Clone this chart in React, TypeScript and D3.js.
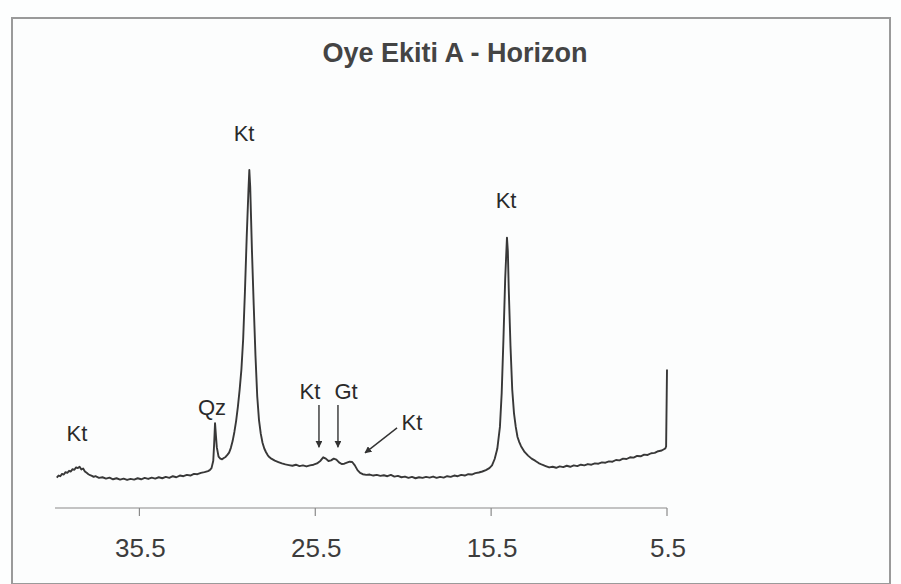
import React from "react";
import * as d3 from "d3";

const chartTitle = "Oye Ekiti A - Horizon";

// Diffractogram trace: [2θ position, counts]
const pattern: [number, number][] = [
  [40.2, 90], [40.1, 96], [40.0, 94], [39.9, 101], [39.8, 99], [39.7, 106], [39.6, 104],
  [39.5, 110], [39.4, 108], [39.3, 115], [39.2, 113], [39.1, 120], [39.0, 118], [38.9, 122],
  [38.8, 114], [38.7, 117], [38.6, 108], [38.5, 104], [38.4, 100], [38.3, 97], [38.2, 95],
  [38.1, 92], [38.0, 94], [37.8, 89], [37.6, 91], [37.4, 87], [37.2, 90], [37.0, 85],
  [36.8, 88], [36.6, 84], [36.4, 87], [36.2, 83], [36.0, 86], [35.8, 84], [35.6, 88],
  [35.4, 85], [35.2, 89], [35.0, 86], [34.8, 90], [34.6, 87], [34.4, 91], [34.2, 88],
  [34.0, 92], [33.8, 89], [33.6, 94], [33.4, 91], [33.2, 96], [33.0, 94], [32.8, 98],
  [32.6, 96], [32.4, 101], [32.2, 100], [32.0, 104], [31.8, 106], [31.6, 109], [31.5, 112],
  [31.4, 118], [31.3, 140], [31.25, 190], [31.2, 251], [31.15, 215], [31.1, 180], [31.0, 152],
  [30.9, 146], [30.8, 144], [30.7, 148], [30.6, 151], [30.5, 157], [30.4, 164], [30.3, 178],
  [30.2, 198], [30.1, 225], [30.0, 258], [29.9, 300], [29.8, 350], [29.7, 410], [29.6, 500],
  [29.5, 640], [29.4, 800], [29.3, 940], [29.25, 1000], [29.2, 950], [29.1, 760], [29.0, 600],
  [28.9, 450], [28.8, 330], [28.7, 260], [28.6, 220], [28.5, 193], [28.4, 176], [28.3, 165],
  [28.2, 156], [28.1, 150], [28.0, 146], [27.8, 140], [27.6, 136], [27.4, 132], [27.2, 129],
  [27.0, 127], [26.8, 125], [26.6, 128], [26.4, 124], [26.2, 126], [26.0, 123], [25.8, 126],
  [25.6, 128], [25.4, 132], [25.2, 140], [25.05, 150], [24.9, 146], [24.75, 139], [24.6, 141],
  [24.45, 146], [24.3, 143], [24.15, 135], [24.0, 130], [23.85, 131], [23.7, 134], [23.55, 137],
  [23.4, 136], [23.25, 126], [23.1, 112], [22.95, 104], [22.8, 100], [22.6, 98], [22.4, 99],
  [22.2, 96], [22.0, 98], [21.8, 95], [21.6, 97], [21.4, 94], [21.2, 98], [21.0, 93],
  [20.8, 95], [20.6, 91], [20.4, 93], [20.2, 89], [20.0, 92], [19.8, 88], [19.6, 91],
  [19.4, 89], [19.2, 92], [19.0, 90], [18.8, 93], [18.6, 89], [18.4, 92], [18.2, 90],
  [18.0, 94], [17.8, 92], [17.6, 96], [17.4, 94], [17.2, 98], [17.0, 96], [16.8, 100],
  [16.6, 99], [16.4, 103], [16.2, 105], [16.0, 108], [15.8, 112], [15.6, 118], [15.45, 126],
  [15.3, 145], [15.15, 175], [15.0, 240], [14.9, 340], [14.8, 500], [14.7, 680], [14.6, 800],
  [14.55, 760], [14.5, 650], [14.4, 480], [14.3, 350], [14.2, 280], [14.1, 240], [14.0, 210],
  [13.9, 195], [13.8, 183], [13.6, 166], [13.4, 155], [13.2, 146], [13.0, 140], [12.8, 133],
  [12.6, 128], [12.4, 124], [12.2, 120], [12.0, 122], [11.8, 119], [11.6, 123], [11.4, 121],
  [11.2, 125], [11.0, 122], [10.8, 126], [10.6, 124], [10.4, 128], [10.2, 126], [10.0, 130],
  [9.8, 128], [9.6, 132], [9.4, 131], [9.2, 135], [9.0, 134], [8.8, 138], [8.6, 137],
  [8.4, 142], [8.2, 141], [8.0, 146], [7.8, 145], [7.6, 150], [7.4, 149], [7.2, 154],
  [7.0, 153], [6.8, 158], [6.6, 157], [6.4, 162], [6.2, 163], [6.0, 168], [5.8, 170],
  [5.6, 176], [5.55, 182], [5.5, 410],
];

const tickValues = [35.5, 25.5, 15.5, 5.5];

// Peak labels: [text, 2θ, counts]
const peakLabels: [string, number, number][] = [
  ["Kt", 39.05, 222],
  ["Qz", 31.37, 299],
  ["Kt", 29.55, 1109],
  ["Kt", 25.8, 346],
  ["Gt", 23.75, 346],
  ["Kt", 20.0, 254],
  ["Kt", 14.65, 911],
];

// Arrows: [from 2θ, from counts, to 2θ, to counts]
const arrows: [number, number, number, number][] = [
  [25.29, 305, 25.29, 180],
  [24.21, 305, 24.21, 180],
  [20.85, 237, 22.67, 163],
];

export default function App() {
  const W = 901;
  const H = 584;
  const x = d3.scaleLinear().domain([40.3, 5.5]).range([55, 667]);
  const y = d3.scaleLinear().domain([0, 1000]).range([508, 170]);
  const axisY = 508;

  const line = d3
    .line<[number, number]>()
    .x((d) => x(d[0]))
    .y((d) => y(d[1]));

  const font = "'Liberation Sans', Arial, sans-serif";

  return (
    <svg
      width={W}
      height={H}
      style={{ position: "absolute", left: 0, top: 0, display: "block" }}
    >
      <defs>
        <marker
          id="ah"
          viewBox="0 0 10 10"
          refX="9"
          refY="5"
          markerWidth="7"
          markerHeight="7"
          orient="auto-start-reverse"
          markerUnits="userSpaceOnUse"
        >
          <path d="M0,0 L10,5 L0,10 z" fill="#333" />
        </marker>
      </defs>
      <rect x={0} y={0} width={W} height={H} fill="#fdfefe" />
      <rect
        x={12}
        y={18}
        width={878}
        height={566}
        fill="#fcfdfd"
        stroke="#9a9a9a"
        strokeWidth={2}
      />
      <text
        x={455}
        y={62}
        textAnchor="middle"
        fontFamily={font}
        fontWeight="bold"
        fontSize={27}
        fill="#444"
      >
        {chartTitle}
      </text>

      {/* x axis */}
      <line
        x1={x(40.3)}
        x2={x(5.5)}
        y1={axisY}
        y2={axisY}
        stroke="#8a8a8a"
        strokeWidth={1.2}
      />
      {tickValues.map((t) => (
        <g key={t}>
          <line
            x1={x(t)}
            x2={x(t)}
            y1={axisY}
            y2={axisY + 8}
            stroke="#8a8a8a"
            strokeWidth={1.2}
          />
          <text
            x={x(t) + 1}
            y={557}
            textAnchor="middle"
            fontFamily={font}
            fontSize={26}
            fill="#3c3c3c"
          >
            {t.toFixed(1)}
          </text>
        </g>
      ))}

      <path
        d={line(pattern) || ""}
        fill="none"
        stroke="#383838"
        strokeWidth={1.9}
        strokeLinejoin="round"
      />

      {peakLabels.map(([txt, t, c], i) => (
        <text
          key={i}
          x={x(t)}
          y={y(c) + 8}
          textAnchor="middle"
          fontFamily={font}
          fontSize={22}
          fill="#2a2a2a"
        >
          {txt}
        </text>
      ))}

      {arrows.map(([t1, c1, t2, c2], i) => (
        <line
          key={i}
          x1={x(t1)}
          y1={y(c1)}
          x2={x(t2)}
          y2={y(c2)}
          stroke="#333"
          strokeWidth={1.4}
          markerEnd="url(#ah)"
        />
      ))}
    </svg>
  );
}
